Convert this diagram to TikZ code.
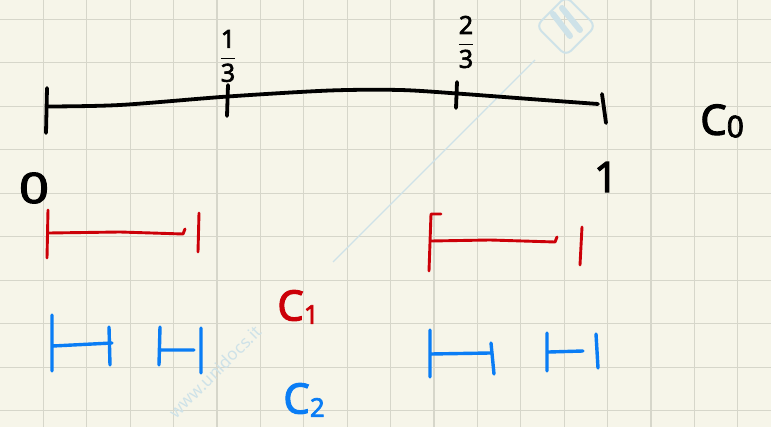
\documentclass[tikz,border=0pt]{standalone}
\usepackage{fontspec}
\usepackage{amsmath}
\setmainfont{Noto Sans}[AutoFakeBold=2.5]
\usetikzlibrary{positioning}

\definecolor{paper}{RGB}{246,245,233}
\definecolor{gridline}{RGB}{214,214,202}
\definecolor{penred}{RGB}{204,0,8}
\definecolor{penblue}{RGB}{10,125,245}
\definecolor{wm}{RGB}{206,226,232}

\begin{document}
\begin{tikzpicture}[
  x=1pt, y=-1pt,
  paperline/.style={draw=gridline, line width=1.3},
  ink/.style={line width=3.8, line cap=round, line join=round},
  inkred/.style={ink, draw=penred, line width=2.9},
  inkblue/.style={ink, draw=penblue, line width=3.4},
  lab/.style={inner sep=0, font=\fontsize{42}{44}\selectfont\bfseries},
  frac/.style={inner sep=0, font=\fontsize{25}{27}\selectfont\bfseries}
]
% squared paper
\fill[paper] (0,0) rectangle (771,427);
\useasboundingbox (0,0) rectangle (771,427);
\foreach \gx in {1,...,17} \draw[paperline] (43.4*\gx,0) -- (43.4*\gx,427);
\foreach \gy in {0,...,9} \draw[paperline] (0,19.3+43.5*\gy) -- (771,19.3+43.5*\gy);

% watermark
\draw[wm, line width=1.2] (333,262) -- (535,60);
\node[rotate=45, text=wm, inner sep=0, font=\fontsize{17}{19}\selectfont] (mark) at (215,372) {www.unidocs.it};
\node[draw=wm, line width=2, rounded corners=7, minimum size=42, rotate=45] (logo) at (566,26) {};
\draw[wm, line width=6, line cap=round] (553,14) -- (570,36) (562,8) -- (580,30);

% C0
\draw[ink] plot[smooth] coordinates {(47,106.5) (120,105) (228,96.5) (330,90.5) (400,90) (457,93.5) (530,99) (598,104)};
\draw[ink] (47,88) -- (46,133);
\draw[ink] (228,85) -- (227,116);
\draw[ink] (457,82) -- (456,108);
\draw[ink] (602,94) -- (606,123);
\node[frac] (third) at (228,56) {$\displaystyle\frac{\textbf{1}}{\textbf{3}}$};
\node[frac] (twothirds) at (466,42) {$\displaystyle\frac{\textbf{2}}{\textbf{3}}$};
\node[lab, xscale=1.25] (zero) at (34,188) {0};
\node[lab] (one) at (606,177) {1};
\node[lab, anchor=west] (czero) at (700,121) {C\raisebox{-0.06em}{\fontsize{30}{30}\selectfont\bfseries 0}};

% C1
\draw[inkred] (48,210) -- (47,258);
\draw[inkred] (49,233) -- (120,232) -- (183,234) -- (185,229);
\draw[inkred] (199,213) -- (198,252);
\draw[inkred] (441,214) -- (431,214) -- (429,271);
\draw[inkred] (431,241) -- (490,240) -- (555,242) -- (557,237);
\draw[inkred] (582,227) -- (580,265);
\node[lab, text=penred] (cone) at (298,307) {C\raisebox{-0.08em}{\fontsize{26}{26}\selectfont\bfseries 1}};

% C2
\draw[inkblue] (52,315) -- (52,371) (53,346) -- (112,343) (109,327) -- (110,365);
\draw[inkblue] (160,327) -- (159,365) (161,350) -- (194,350) (201,328) -- (201,373);
\draw[inkblue] (430,330) -- (430,377) (431,354) -- (490,353) (491,343) -- (494,374);
\draw[inkblue] (547,333) -- (547,371) (549,352) -- (583,351) (596,334) -- (598,368);
\node[lab, text=penblue] (ctwo) at (304,400) {C\raisebox{-0.08em}{\fontsize{26}{26}\selectfont\bfseries 2}};
\end{tikzpicture}
\end{document}
